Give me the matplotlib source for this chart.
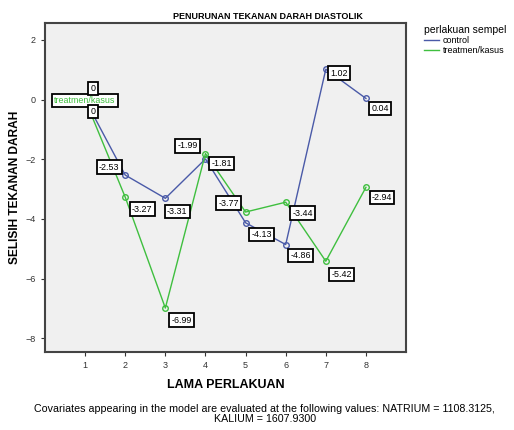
import matplotlib.pyplot as plt

# data
lama = [1, 2, 3, 4, 5, 6, 7, 8]
control = [0, -2.53, -3.31, -1.99, -4.13, -4.86, 1.02, 0.04]
treatmen = [0, -3.27, -6.99, -1.81, -3.77, -3.44, -5.42, -2.94]
yticks = [2, 0, -2, -4, -6, -8]

# label offsets in pixels (style only)
off_control = [None, (-16, 8), (12, -13), (-18, 13), (16, -12), (15, -11), (13, -4), (14, -10)]
off_treat = [None, (17, -12), (16, -12), (16, -10), (-17, 9), (17, -11), (16, -13), (16, -10)]

c_blue = "#4a5aa8"
c_green = "#3fbf3f"

plt.rcParams["font.family"] = ["Liberation Sans", "DejaVu Sans"]

fig = plt.figure(figsize=(5.14, 4.30), dpi=100)
ax = fig.add_axes([0.0875, 0.181, 0.7025, 0.7655])
ax.set_facecolor("#f0f0f0")

ax.plot(lama, control, color=c_blue, lw=1, marker="o", ms=4,
        mfc="none", mec=c_blue, label="control")
ax.plot(lama, treatmen, color=c_green, lw=1, marker="o", ms=4,
        mfc="none", mec=c_green, label="treatmen/kasus")

box = dict(boxstyle="square,pad=0.25", fc="white", ec="black", lw=1.3)


def label(x, y, txt, off, col="black"):
    ax.annotate(txt, (x, y), xytext=off, textcoords="offset pixels",
                ha="center", va="center", fontsize=6.4, color=col, bbox=box)


for i in range(1, len(lama)):
    label(lama[i], control[i], "%g" % control[i], off_control[i])
    label(lama[i], treatmen[i], "%g" % treatmen[i], off_treat[i])

# the crowded labels at the first point
label(lama[0], treatmen[0], "treatmen/kasus", (0, -1), col=c_green)
label(lama[0], control[0], "0", (8, 11))
label(lama[0], treatmen[0], "0", (8, -12))

ax.set_xlim(0, 9)
ax.set_ylim(-8.47, 2.57)
ax.set_xticks(lama)
ax.set_yticks(yticks)
ax.tick_params(labelsize=6.5, colors="#333333", length=3)
for s in ax.spines.values():
    s.set_color("#444444")
    s.set_linewidth(1.5)

ax.set_xlabel("LAMA PERLAKUAN", fontsize=9, fontweight="bold", labelpad=6)
ax.set_ylabel("SELISIH TEKANAN DARAH", fontsize=8.6, fontweight="bold", labelpad=3)
fig.text(0.522, 0.962, "PENURUNAN TEKANAN DARAH DIASTOLIK", fontsize=6.5,
         fontweight="bold", ha="center", va="center")

leg = fig.legend(loc="upper left", bbox_to_anchor=(0.81, 0.96), frameon=False,
                 title="perlakuan sempel", fontsize=6.5, title_fontsize=7.5,
                 handlelength=1.6, handletextpad=0.4, labelspacing=0.1,
                 alignment="left")
for h in leg.legend_handles:
    h.set_marker("")

fig.text(0.515, 0.037, "Covariates appearing in the model are evaluated at the following values: NATRIUM = 1108.3125,\nKALIUM = 1607.9300",
         ha="center", va="center", fontsize=7.7, linespacing=1.1)

fig.savefig("out.png", dpi=100)
